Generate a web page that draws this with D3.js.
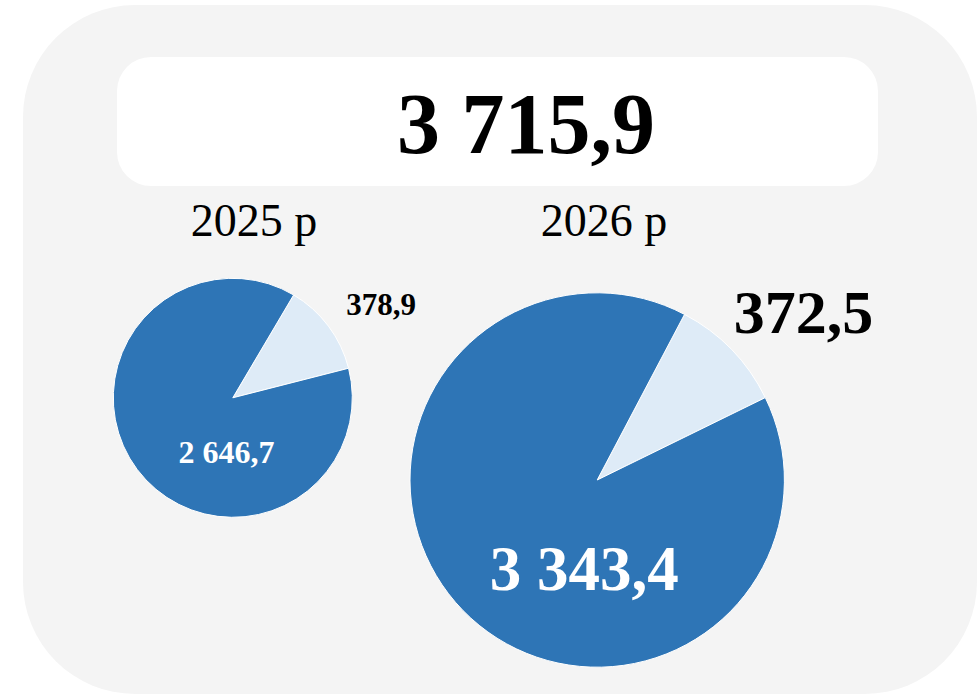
<!DOCTYPE html>
<html>
<head>
<meta charset="utf-8">
<script src="https://cdn.jsdelivr.net/npm/d3@7"></script>
<style>
  html, body { margin: 0; padding: 0; background: #ffffff; }
  svg { display: block; }
</style>
</head>
<body>
<svg id="chart" width="978" height="694"></svg>
<script>
// ---- data ----
const years = ["2025 р", "2026 р"];
const mainValues = [2646.7, 3343.4];   // dark segment
const otherValues = [378.9, 372.5];    // light segment

// ---- layout (not data) ----
const W = 978, H = 694;
const pieLayout = [
  { cx: 232.8, cy: 397.8, r: 119.5, start: 30.6, darkFont: 32, lightFont: 31,
    darkA: 186.6, darkD: 0.456, lightA: 57.7, lightD: 1.468 },
  { cx: 597.2, cy: 480.0, r: 187.2, start: 27.8, darkFont: 63, lightFont: 62,
    darkA: 188.3, darkD: 0.477, lightA: 50.8, lightD: 1.423 }
];
const titleX = [254, 604];
const colors = { dark: "#2E75B6", light: "#DEEBF7", bg: "#F4F4F4" };
const serif = "'Liberation Serif', 'Times New Roman', Times, serif";

const loc = d3.formatLocale({ decimal: ",", thousands: " ", grouping: [3], currency: ["", ""] });
const fmt = loc.format(",.1f");
const rad = d => d * Math.PI / 180;

const svg = d3.select("#chart");

// background panel
svg.append("rect")
  .attr("x", 23).attr("y", 5).attr("width", 954).attr("height", 689)
  .attr("rx", 112).attr("ry", 112)
  .attr("fill", colors.bg);

// total box
svg.append("rect")
  .attr("x", 117).attr("y", 57).attr("width", 761).attr("height", 129)
  .attr("rx", 34).attr("ry", 34)
  .attr("fill", "#ffffff");

const total = mainValues[mainValues.length - 1] + otherValues[otherValues.length - 1];
svg.append("text")
  .attr("x", 526).attr("y", 153)
  .attr("text-anchor", "middle")
  .attr("font-family", serif).attr("font-weight", "bold")
  .attr("font-size", 86)
  .attr("fill", "#000")
  .text(fmt(total));

// titles
svg.selectAll("text.year").data(years).enter().append("text")
  .attr("class", "year")
  .attr("x", (d, i) => titleX[i]).attr("y", 236)
  .attr("text-anchor", "middle")
  .attr("font-family", serif).attr("font-size", 46)
  .attr("fill", "#000")
  .text(d => d);

// pies
years.forEach((y, i) => {
  const L = pieLayout[i];
  const values = [
    { key: "other", v: otherValues[i], color: colors.light },
    { key: "main", v: mainValues[i], color: colors.dark }
  ];
  const pie = d3.pie().sort(null).value(d => d.v)
    .startAngle(rad(L.start)).endAngle(rad(L.start) + 2 * Math.PI);
  const arc = d3.arc().innerRadius(0).outerRadius(L.r);
  const g = svg.append("g").attr("transform", `translate(${L.cx},${L.cy})`);
  g.selectAll("path").data(pie(values)).enter().append("path")
    .attr("d", arc)
    .attr("fill", d => d.data.color)
    .attr("stroke", "#ffffff").attr("stroke-width", 1)
    .attr("stroke-linejoin", "round");

  const polar = (a, d) => [L.r * d * Math.sin(rad(a)), -L.r * d * Math.cos(rad(a))];
  const pd = polar(L.darkA, L.darkD);
  g.append("text")
    .attr("x", pd[0]).attr("y", pd[1]).attr("dy", "0.35em")
    .attr("text-anchor", "middle")
    .attr("font-family", serif).attr("font-weight", "bold")
    .attr("font-size", L.darkFont).attr("fill", "#ffffff")
    .text(fmt(mainValues[i]));
  const pl = polar(L.lightA, L.lightD);
  g.append("text")
    .attr("x", pl[0]).attr("y", pl[1]).attr("dy", "0.35em")
    .attr("text-anchor", "middle")
    .attr("font-family", serif).attr("font-weight", "bold")
    .attr("font-size", L.lightFont).attr("fill", "#000")
    .text(fmt(otherValues[i]));
});
</script>
</body>
</html>
